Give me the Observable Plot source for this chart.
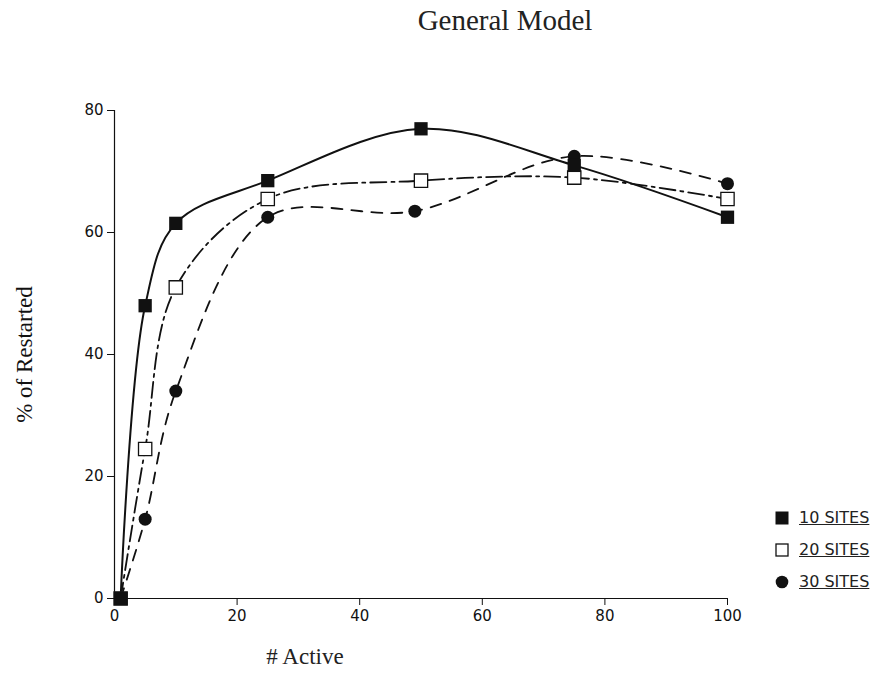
<!DOCTYPE html>
<html>
<head>
<meta charset="utf-8">
<script src="https://cdn.jsdelivr.net/npm/d3@7"></script>
<script src="https://cdn.jsdelivr.net/npm/@observablehq/plot@0.6"></script>
<style>
  body { margin: 0; background: #fff; }
  #wrap { position: relative; width: 892px; height: 676px; }
  #title { height: 50px; font-family: "Liberation Serif", "DejaVu Serif", serif; font-size: 29px; color: #222;
           text-align: center; padding-left: 118px; box-sizing: border-box; line-height: 40px; }
  .xl { position: absolute; left: 235px; top: 644px; width: 140px; text-align: center;
        font-family: "Liberation Serif", serif; font-size: 23px; color: #222; line-height: 26px; }
  .leg { position: absolute; left: 775px; font-family: "DejaVu Sans", sans-serif; font-size: 16px; color: #222; }
  .leg span { text-decoration: underline; margin-left: 10px; vertical-align: middle; }
  .leg svg { vertical-align: middle; }
</style>
</head>
<body>
<div id="wrap">
  <div id="title">General Model</div>
  <div id="chart"></div>
  <div class="xl"># Active</div>
  <div class="leg" style="top:507px"><svg width="14" height="14"><rect x="0.5" y="0.5" width="13" height="13" fill="#111"/></svg><span>10 SITES</span></div>
  <div class="leg" style="top:539px"><svg width="14" height="14"><rect x="1" y="1" width="12" height="12" fill="#fff" stroke="#111" stroke-width="1.3"/></svg><span>20 SITES</span></div>
  <div class="leg" style="top:571px"><svg width="14" height="14"><circle cx="7" cy="7" r="6.3" fill="#111"/></svg><span>30 SITES</span></div>
</div>
<script>
const xs = [1, 5, 10, 25, 50, 75, 100];
const sites10 = [0, 48, 61.5, 68.5, 77, 71, 62.5];
const sites20 = [0, 24.5, 51, 65.5, 68.5, 69, 65.5];
const xs30 = [1, 5, 10, 25, 49, 75, 100];
const sites30 = [0, 13, 34, 62.5, 63.5, 72.5, 68];
const xTicks = [0, 20, 40, 60, 80, 100];
const yTicks = [0, 20, 40, 60, 80];

const d10 = xs.map((x, i) => ({x, y: sites10[i]}));
const d20 = xs.map((x, i) => ({x, y: sites20[i]}));
const d30 = xs30.map((x, i) => ({x, y: sites30[i]}));

const ink = "#111";
const chart = Plot.plot({
  width: 892,
  height: 626,
  marginLeft: 114,
  marginRight: 165,
  marginTop: 60,
  marginBottom: 78,
  style: { fontFamily: "DejaVu Sans, sans-serif", fontSize: "15px", color: ink, background: "#fff" },
  x: { domain: [0, 100], ticks: xTicks },
  y: { domain: [0, 80], ticks: yTicks },
  marks: [
    Plot.ruleY([0], { x1: 0, x2: 100, stroke: ink, strokeWidth: 1.2 }),
    Plot.ruleX([0], { y1: 0, y2: 80, stroke: ink, strokeWidth: 1.2 }),
    Plot.axisX({ ticks: xTicks, tickSize: 7, tickPadding: 5, label: null, stroke: ink, fontSize: 15 }),
    Plot.axisY({ ticks: yTicks, tickSize: 7, tickPadding: 4, label: "% of Restarted", labelAnchor: "center",
                 labelOffset: 99, labelArrow: "none", stroke: ink,
                 fontSize: 15 }),
    Plot.line(d10, { x: "x", y: "y", curve: "catmull-rom", stroke: ink, strokeWidth: 2 }),
    Plot.line(d20, { x: "x", y: "y", curve: "catmull-rom", stroke: ink, strokeWidth: 1.8, strokeDasharray: "16,5,3,5" }),
    Plot.line(d30, { x: "x", y: "y", curve: "catmull-rom", stroke: ink, strokeWidth: 1.8, strokeDasharray: "11,9" }),
    Plot.dot(d30, { x: "x", y: "y", symbol: "circle", r: 6.5, fill: ink }),
    Plot.dot(d20, { x: "x", y: "y", symbol: "square", r: 7.5, fill: "#fff", stroke: ink, strokeWidth: 1.3 }),
    Plot.dot(d10, { x: "x", y: "y", symbol: "square", r: 7.5, fill: ink })
  ]
});
document.getElementById("chart").appendChild(chart);
// serif y label
chart.querySelectorAll("text").forEach(t => {
  if (t.textContent.includes("Restarted")) {
    t.setAttribute("font-family", "Liberation Serif, serif");
    t.setAttribute("font-size", "23");
  }
});
</script>
</body>
</html>
